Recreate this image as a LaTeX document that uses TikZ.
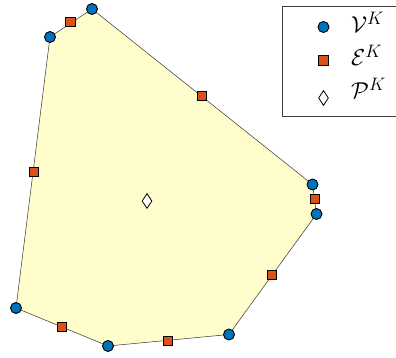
\RequirePackage{fix-cm}
\documentclass[tikz,border=0pt]{standalone}
\usetikzlibrary{shapes.geometric}
\DeclareMathSizes{23}{23}{18}{14}
\definecolor{vblue}{HTML}{0072BD}
\definecolor{eorange}{HTML}{D95319}
\definecolor{polyfill}{HTML}{FFFDCC}
\tikzset{
  vert/.style={circle,draw=black,line width=0.9pt,fill=vblue,minimum size=11pt,inner sep=0pt},
  edgem/.style={rectangle,draw=black,line width=0.9pt,fill=eorange,minimum size=9.5pt,inner sep=0pt},
  polym/.style={diamond,draw=black,line width=0.8pt,fill=white,minimum width=10pt,minimum height=15pt,inner sep=0pt,aspect=0.7},
  side/.style={draw=black!80,line width=0.5pt},
  legtext/.style={anchor=base west,inner sep=0pt,font=\fontsize{23}{25}\selectfont}
}
\begin{document}
\begin{tikzpicture}[x=1pt,y=-1pt]
\useasboundingbox (0,0) rectangle (396,358);
\clip (0,0) rectangle (396,358);
\coordinate (c1) at (92,9);
\coordinate (c2) at (50,37);
\coordinate (c3) at (16,308);
\coordinate (c4) at (108,346);
\coordinate (c5) at (229,334.5);
\coordinate (c6) at (316.5,214);
\coordinate (c7) at (312.5,184.5);
\fill[polyfill] (c1) -- (c2) -- (c3) -- (c4) -- (c5) -- (c6) -- (c7) -- cycle;
\draw[side] (c1) -- (c2) -- (c3) -- (c4) -- (c5) -- (c6) -- (c7) -- cycle;
\node[polym] (p) at (147,201) {};
\node[edgem] (e12) at (70.5,22) {};
\node[edgem] (e23) at (34,172) {};
\node[edgem] (e34) at (62,327) {};
\node[edgem] (e45) at (168,341) {};
\node[edgem] (e56) at (272,275) {};
\node[edgem] (e67) at (315,199) {};
\node[edgem] (e71) at (202,96) {};
\node[vert] (v1) at (c1) {};
\node[vert] (v2) at (c2) {};
\node[vert] (v3) at (c3) {};
\node[vert] (v4) at (c4) {};
\node[vert] (v5) at (c5) {};
\node[vert] (v6) at (c6) {};
\node[vert] (v7) at (c7) {};
% legend
\node[draw=black!75,line width=0.6pt,fill=white,minimum width=130pt,minimum height=110pt,anchor=north west,inner sep=0pt] (leg) at (281.5,6) {};
\node[vert] (lv) at (323.5,27) {};
\node[edgem] (le) at (323.5,60.5) {};
\node[polym] (lp) at (323.5,98) {};
\node[legtext] (tv) at (351,33) {$\mathcal{V}^K$};
\node[legtext] (te) at (351,66) {$\mathcal{E}^K$};
\node[legtext] (tp) at (351,99) {$\mathcal{P}^K$};
\end{tikzpicture}
\end{document}
